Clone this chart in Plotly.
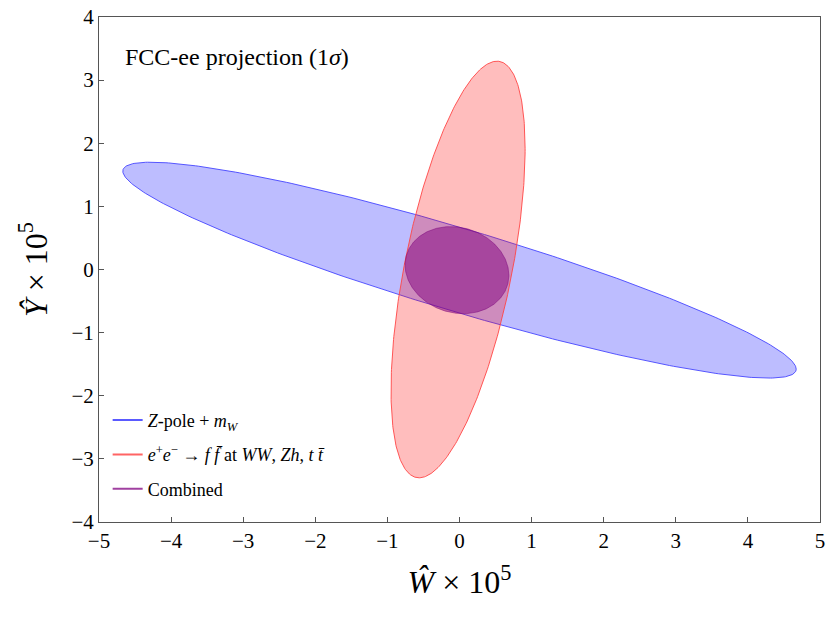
''' FCC-ee 1 sigma ellipses in the (W, Y) plane '''

import numpy as np
import plotly.graph_objects as go

# ellipse parameters (units of 1e-5)
names = ['Z-pole', 'ffbar', 'Combined']
center_w = [0.0, -0.02, -0.035]
center_y = [-0.01, 0.0, -0.01]
sigma_w = [4.67, 0.93, 0.72]
sigma_y = [1.71, 3.30, 0.69]
rho = [-0.917, 0.58, -0.12]

fill_colors = ['rgba(0,0,255,0.26)', 'rgba(255,0,0,0.26)', 'rgba(128,0,128,0.5)']
edge_colors = ['rgba(70,70,255,0.9)', 'rgba(255,70,70,0.9)', 'rgba(120,0,120,0.45)']

legend_labels = ['<i>Z</i>-pole + <i>m<sub>W</sub></i>',
                 '<i>e</i><sup>+</sup><i>e</i><sup>\u2212</sup> \u2192 <i>f f\u0304</i> at <i>WW</i>, <i>Zh</i>, <i>t t\u0304</i>',
                 'Combined']
legend_colors = ['#5a5aff', '#ff6464', '#a040a0']

x_ticks = [-5, -4, -3, -2, -1, 0, 1, 2, 3, 4, 5]
y_ticks = [-4, -3, -2, -1, 0, 1, 2, 3, 4]

FONT = 'Liberation Serif, DejaVu Serif, serif'


def ellipse(cx, cy, sx, sy, r, n=400):
    cov = np.array([[sx**2, r*sx*sy], [r*sx*sy, sy**2]])
    L = np.linalg.cholesky(cov)
    t = np.linspace(0, 2*np.pi, n)
    pts = L @ np.vstack([np.cos(t), np.sin(t)])
    return cx + pts[0], cy + pts[1]


fig = go.Figure()

for i in range(len(names)):
    x, y = ellipse(center_w[i], center_y[i], sigma_w[i], sigma_y[i], rho[i])
    fig.add_trace(go.Scatter(x=x, y=y, mode='lines', fill='toself',
                             fillcolor=fill_colors[i],
                             line=dict(color=edge_colors[i], width=1),
                             showlegend=False, hoverinfo='skip'))

# legend entries drawn as plain lines
for i in range(len(legend_labels)):
    fig.add_trace(go.Scatter(x=[None], y=[None], mode='lines',
                             name=legend_labels[i], legendgroup=str(i),
                             line=dict(color=legend_colors[i], width=2)))

fig.add_annotation(x=0.033, y=0.92, xref='paper', yref='paper',
                   text='FCC-ee projection (1<i>\u03c3</i>)', showarrow=False,
                   xanchor='left', yanchor='middle',
                   font=dict(family=FONT, size=24, color='black'))

axis_common = dict(showgrid=False, zeroline=False, showline=True, mirror=True,
                   linecolor='#555555', linewidth=1, ticks='inside', ticklen=5,
                   tickcolor='#555555', tickfont=dict(family=FONT, size=21, color='black'))

fig.update_xaxes(range=[-5, 5], tickvals=x_ticks,
                 title=dict(text='<i>\u0174</i> \u00d7 10<sup>5</sup>',
                            font=dict(family=FONT, size=32, color='black'), standoff=18),
                 **axis_common)
fig.update_yaxes(range=[-4, 4], tickvals=y_ticks,
                 title=dict(text='<i>\u0176</i> \u00d7 10<sup>5</sup>',
                            font=dict(family=FONT, size=32, color='black'), standoff=14),
                 **axis_common)

fig.update_layout(width=830, height=622,
                  margin=dict(l=99, r=10, t=17, b=100, autoexpand=False),
                  paper_bgcolor='white', plot_bgcolor='white',
                  font=dict(family=FONT),
                  legend=dict(x=0.012, y=0.238, xanchor='left', yanchor='top',
                              bgcolor='rgba(0,0,0,0)', tracegroupgap=8,
                              font=dict(family=FONT, size=18, color='black'),
                              itemwidth=30))

fig.write_html("out.html", config={'displayModeBar': False},
               post_script="document.body.style.margin='0';")
